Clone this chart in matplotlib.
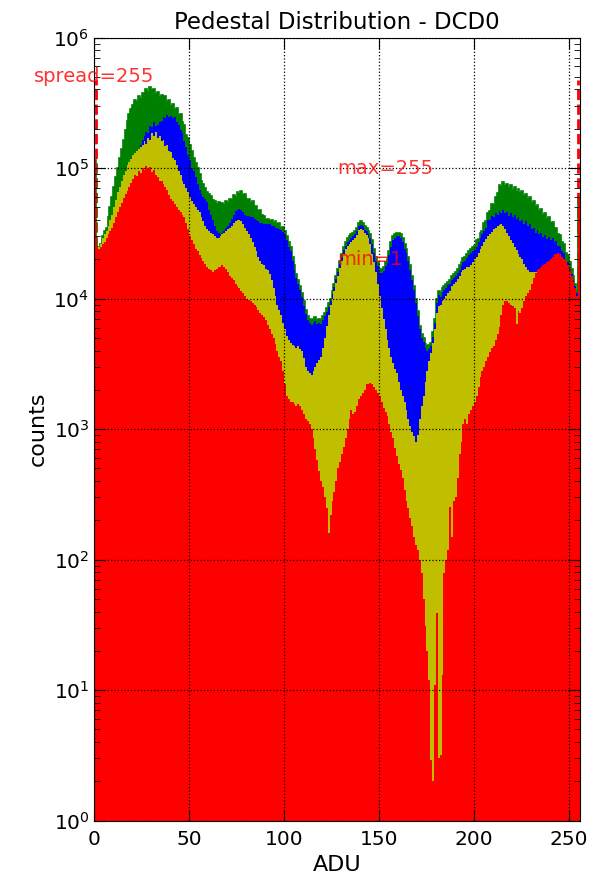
import numpy as np
import matplotlib.pyplot as plt

# pedestal histogram, one bin per ADU value (0..255)
adu_edges = np.arange(257)

# visible top of each layer (counts per ADU bin)
counts_green = [
    115000, 25000, 25000, 26000, 30000, 33000, 35000, 42000, 50000, 60000,
    72000, 85000, 100000, 120000, 140000, 165000, 195000, 230000, 260000, 285000,
    305000, 330000, 320000, 355000, 340000, 375000, 360000, 400000, 385000, 420000,
    395000, 405000, 370000, 380000, 350000, 365000, 340000, 355000, 320000, 330000,
    300000, 310000, 280000, 290000, 255000, 260000, 225000, 215000, 180000, 170000,
    150000, 135000, 120000, 110000, 100000, 90000, 80000, 75000, 70000, 66000,
    63000, 61000, 57000, 56000, 53000, 55000, 51000, 54000, 52000, 56000,
    54000, 58000, 57000, 62000, 60000, 66000, 63000, 67000, 62000, 63000,
    58000, 58000, 54000, 56000, 51000, 51000, 47000, 48000, 44000, 43000,
    40000, 41000, 39000, 40000, 38000, 39000, 37000, 38000, 35000, 35500,
    33000, 30000, 27000, 25000, 21000, 18000, 15500, 14000, 12500, 11000,
    9500, 8200, 7300, 7000, 6800, 7000, 7200, 6900, 7000, 6900,
    7400, 7800, 8500, 9200, 10000, 11500, 13000, 15000, 17000, 19500,
    22000, 25000, 27000, 29000, 30000, 31000, 32000, 33000, 35000, 38000,
    39000, 38000, 36000, 35000, 33000, 31000, 28000, 24000, 21000, 19000,
    17000, 17000, 17500, 19000, 20000, 23000, 27000, 30000, 31000, 32000,
    32000, 31000, 29000, 26000, 24000, 21000, 18000, 15000, 12500, 10000,
    8000, 6200, 5400, 5000, 4500, 4300, 4400, 4600, 5500, 7000,
    10000, 11500, 11000, 12000, 12500, 13000, 13500, 14000, 15000, 15500,
    16000, 17000, 18000, 19000, 20500, 21000, 22000, 23000, 24000, 25000,
    25500, 28000, 28500, 32000, 33000, 38000, 39000, 45000, 47000, 53000,
    52000, 60000, 64000, 74000, 71000, 78000, 73000, 76000, 70000, 74000,
    68000, 72000, 66000, 69000, 64000, 67000, 61000, 63000, 58000, 60000,
    54000, 56000, 50000, 52000, 47000, 49000, 44000, 45000, 41000, 42000,
    38000, 38500, 34000, 35000, 31000, 30500, 27000, 26000, 22500, 21500,
    19000, 17000, 15000, 13000, 11500, 57000,
]

counts_blue = [
    115000, 25000, 25000, 26000, 29000, 31000, 33000, 36000, 40000, 44000,
    50000, 57000, 65000, 72000, 80000, 88000, 95000, 105000, 112000, 118000,
    125000, 130000, 135000, 140000, 150000, 165000, 175000, 190000, 185000, 210000,
    205000, 225000, 210000, 215000, 225000, 230000, 245000, 240000, 255000, 245000,
    250000, 240000, 245000, 225000, 215000, 195000, 185000, 160000, 145000, 125000,
    115000, 100000, 95000, 85000, 75000, 68000, 63000, 60000, 58000, 55000,
    48000, 44000, 40000, 36000, 33000, 32000, 31000, 32000, 33000, 35000,
    36000, 38000, 41000, 44000, 47000, 48000, 49000, 48000, 46000, 44000,
    43000, 43000, 42000, 42000, 41000, 40000, 39000, 38000, 38000, 37000,
    37000, 37000, 37000, 36000, 36000, 35000, 35000, 34000, 33500, 32500,
    30500, 28000, 25000, 23000, 19500, 16700, 14400, 13000, 11600, 10200,
    8800, 7600, 6800, 6500, 6300, 6500, 6700, 6400, 6500, 6400,
    6900, 7300, 7900, 8600, 9500, 10800, 12200, 14100, 16000, 18300,
    20700, 23500, 25400, 27300, 28200, 29100, 30000, 31000, 32900, 35700,
    36700, 35700, 33800, 32900, 31000, 29100, 26300, 22300, 19500, 17700,
    15800, 15800, 16300, 17700, 18600, 21400, 25000, 28000, 29000, 30000,
    30000, 29000, 27000, 24000, 22300, 19500, 16700, 14000, 11600, 9300,
    7400, 5800, 5000, 4650, 4200, 4000, 4100, 4300, 5100, 6500,
    9300, 10700, 10200, 11200, 11600, 12100, 12600, 13000, 14000, 14400,
    14900, 15800, 16700, 17700, 19000, 19500, 20500, 21400, 22300, 23000,
    23700, 25000, 27000, 29000, 31000, 33000, 35000, 40000, 40000, 43000,
    42000, 45000, 44000, 47000, 45000, 48000, 45000, 46000, 43000, 45000,
    42000, 44000, 41000, 42000, 39000, 40000, 37000, 39000, 36000, 37000,
    34000, 35000, 32000, 33500, 31000, 32000, 29500, 30500, 28500, 29500,
    28000, 29000, 27000, 27500, 25500, 25500, 23000, 22500, 19500, 19000,
    17000, 15500, 14000, 12500, 11000, 57000,
]

counts_yellow = [
    115000, 25000, 25000, 26000, 29000, 31000, 33000, 36000, 40000, 44000,
    50000, 57000, 65000, 72000, 80000, 88000, 95000, 105000, 112000, 118000,
    125000, 130000, 135000, 140000, 145000, 150000, 160000, 152000, 170000, 165000,
    185000, 175000, 190000, 170000, 175000, 160000, 165000, 148000, 150000, 135000,
    132000, 120000, 115000, 105000, 95000, 88000, 80000, 75000, 70000, 65000,
    60000, 56000, 53000, 50000, 48000, 46000, 42000, 39000, 36000, 34000,
    33000, 32000, 31000, 30000, 29000, 29000, 30000, 31000, 32000, 33000,
    34000, 35000, 36000, 38000, 39000, 40000, 40000, 39000, 37000, 35000,
    33000, 31000, 29000, 27000, 25000, 23000, 21000, 19500, 18500, 18000,
    17000, 16500, 15500, 14000, 12000, 10500, 9000, 8200, 7500, 6500,
    5800, 5200, 4800, 4600, 4400, 4300, 4200, 4300, 4100, 4000,
    3500, 3000, 2800, 2700, 2600, 2800, 3000, 3200, 3400, 3600,
    4200, 5000, 6200, 7500, 9000, 10000, 11500, 13200, 15000, 17200,
    19400, 22000, 23800, 25500, 26400, 27300, 28200, 29000, 30800, 33400,
    34300, 33400, 31700, 30800, 29000, 26000, 22000, 19000, 16000, 13000,
    10500, 8500, 7000, 5800, 4800, 4200, 3600, 3200, 2900, 2700,
    2300, 2000, 1800, 1600, 1400, 1200, 1050, 950, 880, 800,
    900, 1200, 1500, 1800, 2300, 2800, 3300, 3800, 4600, 5800,
    7700, 8700, 9000, 9500, 10000, 10500, 11000, 11500, 12500, 13000,
    13500, 14200, 15000, 16000, 16500, 17000, 17500, 17500, 18000, 19000,
    20000, 21000, 22500, 24000, 25500, 27000, 28500, 30000, 31000, 32500,
    34000, 35000, 36000, 36500, 37000, 36000, 34000, 32000, 30000, 28000,
    26500, 25000, 23500, 22000, 21000, 20000, 18500, 17500, 16500, 16000,
    16000, 16000, 16000, 16500, 17000, 17500, 18000, 18500, 19000, 19500,
    20000, 21000, 22000, 22000, 22500, 22000, 21000, 20000, 19500, 18000,
    16500, 15000, 13500, 12000, 10500, 57000,
]

counts_red = [
    115000, 25000, 24000, 25000, 26000, 27000, 29000, 31000, 33000, 35000,
    38000, 42000, 46000, 50000, 54000, 59000, 63000, 67000, 72000, 77000,
    82000, 88000, 87000, 95000, 92000, 100000, 96000, 103000, 98000, 101000,
    94000, 97000, 89000, 86000, 80000, 79000, 75000, 72000, 68000, 62000,
    58000, 56000, 53000, 50000, 48000, 46000, 44000, 42000, 38000, 34000,
    30000, 28000, 26000, 24000, 23000, 21500, 20500, 19500, 18500, 17500,
    17000, 16500, 16000, 16500, 17000, 17500, 17500, 18000, 17500, 17000,
    16000, 15000, 14500, 14000, 13000, 12500, 12000, 11500, 11000, 10500,
    10000, 9800, 9500, 9300, 9000, 8600, 8200, 7800, 7500, 7200,
    6800, 6300, 5800, 5400, 5000, 4500, 4000, 3600, 3300, 2800,
    2200, 1800, 1700, 1600, 1600, 1550, 1500, 1550, 1500, 1400,
    1300, 1200, 1150, 1100, 1000, 850, 700, 580, 480, 400,
    360, 300, 250, 160, 220, 280, 330, 400, 500, 560,
    650, 730, 850, 1000, 1200, 1400, 1300, 1350, 1500, 1700,
    1800, 1900, 2000, 2200, 2200, 2250, 2200, 2100, 2000, 1900,
    1800, 1600, 1450, 1350, 1250, 1100, 950, 850, 720, 620,
    540, 490, 420, 340, 280, 250, 210, 180, 150, 130,
    118, 100, 79, 50, 31, 20, 12, 2.9, 2.0, 11,
    39, 3.0, 3.2, 13, 79, 100, 118, 255, 150, 280,
    300, 420, 650, 800, 1100, 1200, 1100, 1300, 1400, 1500,
    1600, 1800, 2100, 2500, 2800, 3000, 3300, 3600, 3900, 4200,
    4300, 4800, 5400, 6100, 7500, 9000, 9500, 9500, 9200, 9000,
    8700, 8500, 6400, 8000, 7800, 8500, 9500, 10500, 11000, 11700,
    13000, 14500, 15700, 16500, 17000, 17500, 18000, 18500, 19000, 19500,
    20000, 21000, 22000, 22000, 22500, 22000, 21000, 20000, 19500, 18000,
    16500, 15000, 13500, 12000, 10500, 57000,
]

ped_min = 1
ped_max = 255
ped_spread = 255
marker_top = 4.7e5

fig = plt.figure(figsize=(5.89, 8.77), dpi=100)
ax = fig.add_axes([0.160, 0.0642, 0.825, 0.893])
ax.set_yscale('log')

# min/max markers go underneath the histogram
ax.vlines([ped_min, ped_max], 1, marker_top, colors='r', linestyles='--',
          linewidth=2, zorder=0.5)
ax.text(0, 5e5, 'spread=%d' % ped_spread, color='r', alpha=0.8,
        ha='center', va='center', fontsize=14)
ax.text(128, 1e5, 'max=%d' % ped_max, color='r', alpha=0.8,
        ha='left', va='center', fontsize=14)
ax.text(128, 2e4, 'min=%d' % ped_min, color='r', alpha=0.8,
        ha='left', va='center', fontsize=14)

ax.stairs(counts_green, adu_edges, baseline=0.1, fill=True,
          facecolor='green', edgecolor='green', linewidth=1.2)
ax.stairs(counts_blue, adu_edges, baseline=0.1, fill=True,
          facecolor='blue', edgecolor='none', linewidth=0)
ax.stairs(counts_yellow, adu_edges, baseline=0.1, fill=True,
          facecolor=(0.75, 0.75, 0), edgecolor='none', linewidth=0)
ax.stairs(counts_red, adu_edges, baseline=0.1, fill=True,
          facecolor='red', edgecolor='none', linewidth=0)

ax.set_xlim(0, 256)
ax.set_ylim(1, 1e6)
ax.set_xticks(np.arange(0, 251, 50))
ax.set_axisbelow(False)
ax.grid(True, which='major', color='k', linestyle=':', linewidth=0.9)
ax.tick_params(which='both', direction='in', top=True, right=True,
               labelsize=14.5)
ax.tick_params(which='major', length=8)
ax.tick_params(which='minor', length=4)
ax.tick_params(axis='x', pad=7)

ax.set_title('Pedestal Distribution - DCD0', fontsize=16.5)
ax.set_xlabel('ADU', fontsize=16)
ax.set_ylabel('counts', fontsize=16)

fig.savefig('out.png', dpi=100)
